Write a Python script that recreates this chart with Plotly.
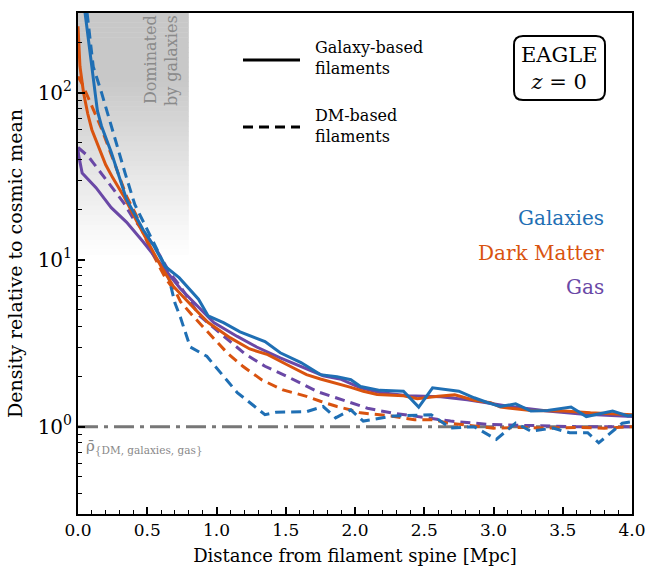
import numpy as np
import plotly.graph_objects as go

# ---------------- data ----------------
gal_solid_x = [0.0, 0.14, 0.17, 0.24, 0.35, 0.47, 0.55, 0.63, 0.73, 0.81, 0.87, 0.94, 1.05, 1.17,
               1.35, 1.46, 1.61, 1.75, 1.87, 1.97, 2.04, 2.18, 2.35, 2.46, 2.56, 2.75, 2.86, 2.95,
               3.05, 3.16, 3.27, 3.39, 3.56, 3.67, 3.86, 3.97, 4.0]
gal_solid_y = [650, 78, 63, 44, 23, 15.1, 12.0, 9.1, 7.8, 6.6, 5.8, 4.6, 4.2, 3.7,
               3.23, 2.77, 2.42, 2.05, 1.99, 1.91, 1.74, 1.65, 1.63, 1.31, 1.71, 1.63, 1.49, 1.40,
               1.32, 1.37, 1.24, 1.25, 1.31, 1.15, 1.24, 1.16, 1.17]

gal_dash_x = [0.0, 0.11, 0.17, 0.24, 0.30, 0.34, 0.41, 0.50, 0.57, 0.64, 0.70, 0.74, 0.81, 0.93,
              1.15, 1.35, 1.43, 1.65, 1.77, 1.86, 1.97, 2.06, 2.28, 2.55, 2.69, 2.86, 3.02, 3.16,
              3.27, 3.43, 3.55, 3.68, 3.76, 3.93, 4.0]
gal_dash_y = [900, 143, 100, 63, 42.5, 33, 21.4, 15.1, 11.5, 8.8, 5.5, 4.5, 3.0, 2.64,
              1.6, 1.18, 1.22, 1.23, 1.32, 1.13, 1.26, 1.08, 1.16, 1.18, 0.98, 1.0, 0.84, 1.05,
              0.94, 0.98, 0.92, 0.92, 0.80, 1.05, 1.07]

dm_solid_x = [0.0, 0.014, 0.04, 0.07, 0.1, 0.15, 0.2, 0.25, 0.33, 0.43, 0.52, 0.6, 0.69, 0.75,
              0.84, 0.94, 1.1, 1.24, 1.37, 1.51, 1.65, 1.75, 1.87, 1.97, 2.06, 2.16, 2.35, 2.45,
              2.6, 2.72, 2.86, 2.98, 3.05, 3.27, 3.51, 3.7, 4.0]
dm_solid_y = [250, 144, 100, 75, 60, 47, 37, 31, 24, 16.6, 12.0, 9.1, 6.9, 6.1,
              5.1, 4.2, 3.4, 2.92, 2.7, 2.35, 2.05, 1.93, 1.82, 1.72, 1.63, 1.56, 1.53, 1.47,
              1.52, 1.55, 1.44, 1.39, 1.31, 1.25, 1.24, 1.21, 1.18]

dm_dash_x = [0.0, 0.03, 0.1, 0.17, 0.27, 0.35, 0.42, 0.47, 0.53, 0.63, 0.71, 0.74, 0.83, 0.95,
             1.08, 1.19, 1.33, 1.48, 1.65, 1.75, 1.87, 1.97, 2.04, 2.26, 2.43, 2.57, 2.67, 2.86,
             3.0, 3.2, 3.4, 3.6, 3.8, 4.0]
dm_dash_y = [125, 113, 83, 61, 36.5, 24, 18.5, 14.5, 11.2, 7.8, 6.3, 5.6, 4.6, 3.6,
             2.75, 2.3, 1.9, 1.66, 1.52, 1.42, 1.32, 1.26, 1.21, 1.16, 1.10, 1.10, 1.05, 1.01,
             0.98, 0.99, 0.98, 0.99, 0.98, 1.0]

gas_solid_x = [0.0, 0.005, 0.03, 0.13, 0.24, 0.35, 0.47, 0.57, 0.67, 0.74, 0.85, 0.98, 1.15, 1.29,
               1.46, 1.63, 1.77, 1.9, 2.04, 2.18, 2.38, 2.62, 2.81, 2.95, 3.15, 3.39, 3.63, 4.0]
gas_solid_y = [45.6, 42, 33, 27, 20.5, 16.8, 12.8, 10, 7.9, 6.7, 5.4, 4.2, 3.47, 3.0,
               2.58, 2.25, 2.02, 1.92, 1.71, 1.6, 1.53, 1.51, 1.45, 1.39, 1.31, 1.24, 1.19, 1.15]

gas_dash_x = [0.0, 0.075, 0.11, 0.22, 0.33, 0.4, 0.49, 0.58, 0.665, 0.74, 0.88, 1.04, 1.2, 1.35,
              1.52, 1.73, 1.93, 2.09, 2.26, 2.5, 2.69, 2.98, 3.3, 3.6, 4.0]
gas_dash_y = [47, 41.5, 38, 29, 21.9, 17.6, 14.2, 11, 8.3, 6.9, 4.6, 3.55, 2.75, 2.3,
              1.98, 1.62, 1.43, 1.29, 1.21, 1.13, 1.08, 1.03, 1.01, 1.0, 1.0]

mean_level = 1.0
series_names = ["Galaxies", "Dark Matter", "Gas"]
series_colors = ["#1f6fb4", "#d9530f", "#6a48a6"]
x_ticks = [0.0, 0.5, 1.0, 1.5, 2.0, 2.5, 3.0, 3.5, 4.0]
y_ticks = [1, 10, 100]
y_ticktext = ["10<sup>0</sup>", "10<sup>1</sup>", "10<sup>2</sup>"]
shade_x_end = 0.8

# ---------------- layout geometry ----------------
W, H = 660, 572
L, R, T, B = 78, 632, 13, 514
ylo, yhi = np.log10(0.3), np.log10(300)
FONT = "DejaVu Serif"


def px(xp):
    return (xp - L) / (R - L)


def py(yp):
    return (B - yp) / (B - T)


fig = go.Figure()

# gradient shading "Dominated by galaxies"
shapes = []
n = 50
y10 = (1 - ylo) / (yhi - ylo)
for i in range(n):
    f0 = i / n
    f1 = (i + 1) / n
    p0 = y10 + (1 - y10) * f0
    p1 = y10 + (1 - y10) * f1
    fm = (f0 + f1) / 2
    t = min(1.0, fm / 0.72)
    c = int(round(255 - 55 * t ** 1.1))
    shapes.append(dict(type="rect", xref="x", yref="paper", x0=0, x1=shade_x_end,
                       y0=p0, y1=p1 + 0.001, line=dict(width=0),
                       fillcolor=f"rgb({c},{c},{c})", layer="below"))

# legend lines
shapes.append(dict(type="line", xref="paper", yref="paper", x0=px(243), x1=px(300),
                   y0=py(60), y1=py(60), line=dict(color="black", width=3)))
shapes.append(dict(type="line", xref="paper", yref="paper", x0=px(243), x1=px(300),
                   y0=py(127), y1=py(127), line=dict(color="black", width=3, dash="10px,6px")))

# rounded EAGLE box
bx0, bx1, by0, by1 = 514, 605, 100, 36
r = 9
path = (f"M {px(bx0 + r)},{py(by0)} L {px(bx1 - r)},{py(by0)} "
        f"Q {px(bx1)},{py(by0)} {px(bx1)},{py(by0 - r)} "
        f"L {px(bx1)},{py(by1 + r)} Q {px(bx1)},{py(by1)} {px(bx1 - r)},{py(by1)} "
        f"L {px(bx0 + r)},{py(by1)} Q {px(bx0)},{py(by1)} {px(bx0)},{py(by1 + r)} "
        f"L {px(bx0)},{py(by0 - r)} Q {px(bx0)},{py(by0)} {px(bx0 + r)},{py(by0)} Z")
shapes.append(dict(type="path", xref="paper", yref="paper", path=path,
                   line=dict(color="black", width=2), fillcolor="white"))

# mean density line
fig.add_trace(go.Scatter(x=[0, 4], y=[mean_level, mean_level], mode="lines",
                         line=dict(color="#777777", width=3, dash="20px,6px,4px,6px"),
                         showlegend=False, hoverinfo="skip"))

curves = [
    (gas_dash_x, gas_dash_y, 2, True),
    (dm_dash_x, dm_dash_y, 1, True),
    (gal_dash_x, gal_dash_y, 0, True),
    (gas_solid_x, gas_solid_y, 2, False),
    (dm_solid_x, dm_solid_y, 1, False),
    (gal_solid_x, gal_solid_y, 0, False),
]
for xs, ys, ci, dashed in curves:
    fig.add_trace(go.Scatter(
        x=xs, y=ys, mode="lines",
        line=dict(color=series_colors[ci], width=3, dash="10px,6px" if dashed else "solid"),
        name=series_names[ci], showlegend=False))

annotations = [
    dict(x=px(313), y=py(58), xref="paper", yref="paper", xanchor="left", yanchor="middle",
         text="Galaxy-based<br>filaments", showarrow=False, align="left",
         font=dict(family=FONT, size=16, color="black")),
    dict(x=px(313), y=py(126), xref="paper", yref="paper", xanchor="left", yanchor="middle",
         text="DM-based<br>filaments", showarrow=False, align="left",
         font=dict(family=FONT, size=16, color="black")),
    dict(x=px(559.5), y=py(68), xref="paper", yref="paper", xanchor="center", yanchor="middle",
         text="EAGLE<br><i>z</i> = 0", showarrow=False, align="center",
         font=dict(family=FONT, size=21, color="black")),
    dict(x=px(161), y=py(61), xref="paper", yref="paper", xanchor="center", yanchor="middle",
         text="Dominated<br>by galaxies", showarrow=False, align="right", textangle=-90,
         font=dict(family=FONT, size=16, color="#8a8a8a")),
    dict(x=px(84), y=py(447), xref="paper", yref="paper", xanchor="left", yanchor="middle",
         text="ρ̄<sub>{DM, galaxies, gas}</sub>", showarrow=False,
         font=dict(family=FONT, size=15, color="#888888")),
]
for name, col, yp in zip(series_names, series_colors, [218, 253, 287]):
    annotations.append(dict(x=px(606), y=py(yp), xref="paper", yref="paper", xanchor="right",
                            yanchor="middle", text=name, showarrow=False,
                            font=dict(family=FONT, size=20, color=col)))

minor_y = [m * 10 ** d for d in (-1, 0, 1, 2) for m in range(2, 10)]

fig.update_layout(
    width=W, height=H,
    margin=dict(l=L, r=W - R, t=T, b=H - B, autoexpand=False),
    paper_bgcolor="white", plot_bgcolor="white",
    font=dict(family=FONT, size=16, color="black"),
    shapes=shapes, annotations=annotations, showlegend=False,
    xaxis=dict(range=[0, 4], tickvals=x_ticks, ticktext=[f"{v:.1f}" for v in x_ticks],
               ticks="inside", ticklen=7, tickwidth=1.5, tickcolor="black",
               showline=True, linecolor="black", linewidth=2, mirror=True,
               showgrid=False, zeroline=False, automargin=False,
               minor=dict(ticks="inside", ticklen=4, tickwidth=1, tickcolor="black", dtick=0.1,
                          showgrid=False),
               tickfont=dict(family=FONT, size=17),
               title=dict(text="Distance from filament spine [Mpc]", standoff=10,
                          font=dict(family=FONT, size=18))),
    yaxis=dict(type="log", range=[ylo, yhi], tickvals=y_ticks, ticktext=y_ticktext,
               ticks="inside", ticklen=7, tickwidth=1.5, tickcolor="black",
               showline=True, linecolor="black", linewidth=2, mirror=True,
               showgrid=False, zeroline=False, automargin=False,
               minor=dict(ticks="inside", ticklen=4, tickwidth=1, tickcolor="black",
                          tickvals=minor_y, showgrid=False),
               tickfont=dict(family=FONT, size=20),
               title=dict(text="Density relative to cosmic mean", standoff=10,
                          font=dict(family=FONT, size=19))),
)

fig.write_html("out.html")
